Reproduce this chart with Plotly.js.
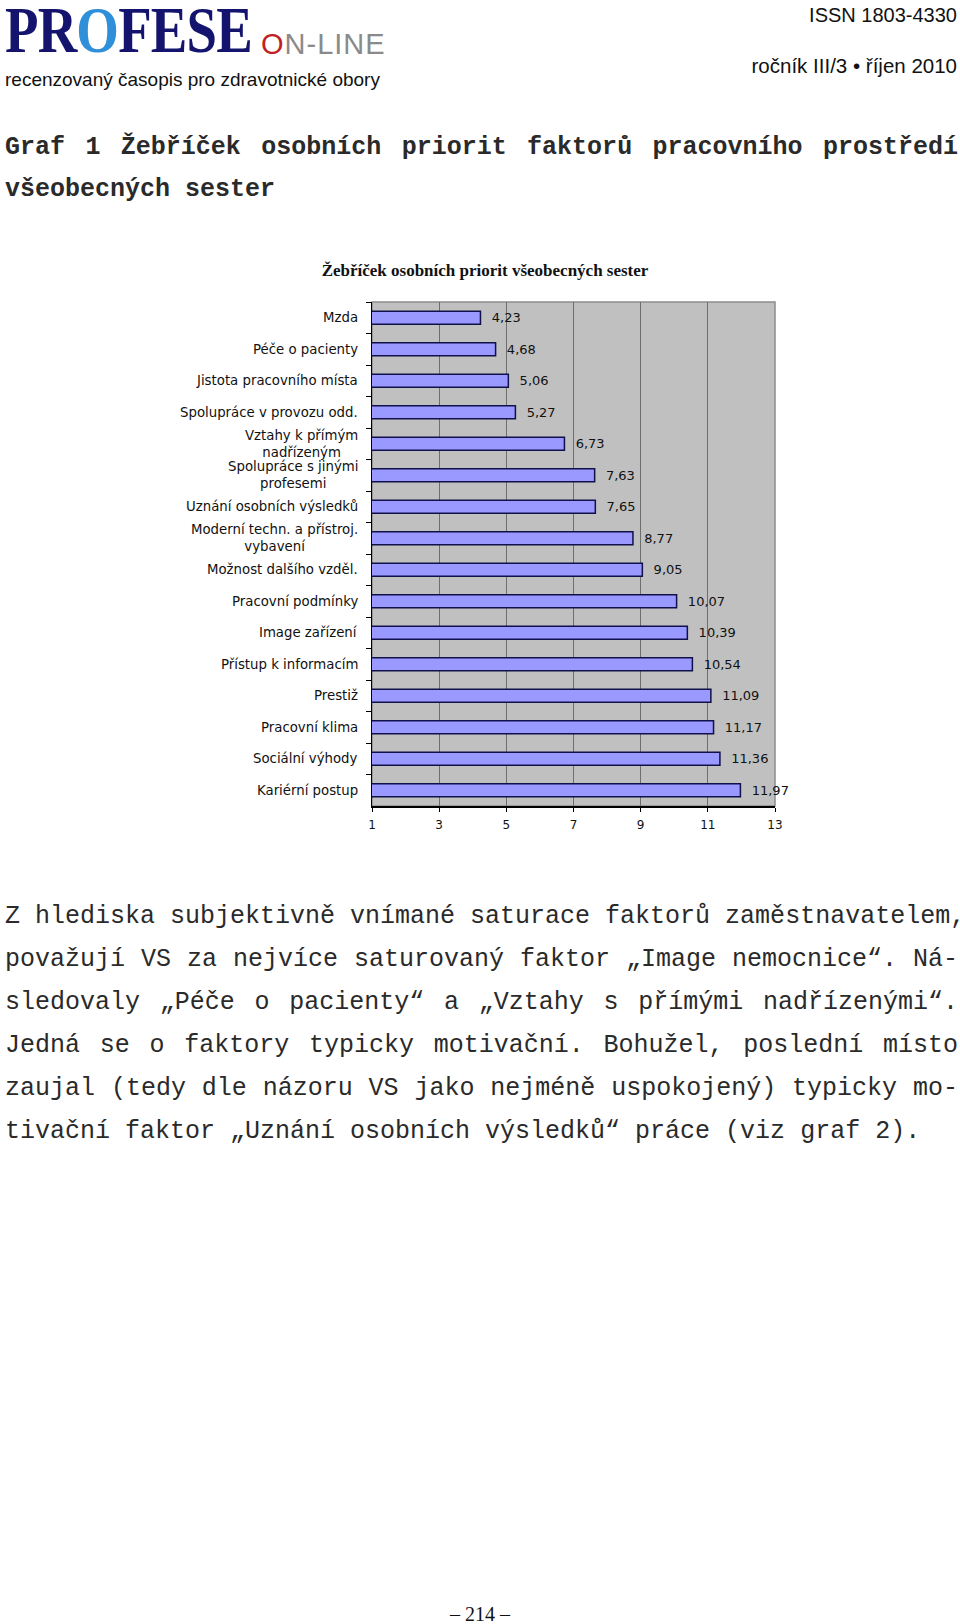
<!DOCTYPE html>
<html>
<head>
<meta charset="utf-8">
<script src="https://cdn.plot.ly/plotly-3.0.1.min.js"></script>
<style>
  html, body { margin: 0; padding: 0; background: #fff; }
  body { width: 960px; height: 1624px; position: relative; overflow: hidden; }
  #chart { position: absolute; left: 0; top: 0; width: 960px; height: 1624px; }
  .abs { position: absolute; white-space: nowrap; color: #111; line-height: 1; }
  .sans { font-family: "Liberation Sans", Arial, sans-serif; }
  .mono { font-family: "Liberation Mono", "Courier New", monospace; font-size: 25px; color: #2a2a2a; line-height: 30px; }
  .just { text-align: justify; text-align-last: justify; width: 953px; left: 5px; }
</style>
</head>
<body>
<div id="chart"></div>

<!-- header -->
<div class="abs" style="left:5px; top:2px; height:56px; overflow:visible; font-family:'Liberation Serif',serif; font-weight:bold; font-size:66px; line-height:56px; color:#14146e; transform:scaleX(0.83); transform-origin:left top; letter-spacing:-1px;">PR<span style="color:#2f8fd8;">O</span>FESE</div>
<div class="abs sans" style="left:261px; top:30px; font-size:29px; color:#8a8a8a; letter-spacing:1px;"><span style="color:#c21f24;">O</span>N-LINE</div>
<div class="abs sans" style="left:5px; top:70px; font-size:19px;">recenzovaný časopis pro zdravotnické obory</div>
<div class="abs sans" style="right:3px; top:5px; font-size:20px;">ISSN 1803-4330</div>
<div class="abs sans" style="right:3px; top:56px; font-size:20.5px;">ročník III/3 • říjen 2010</div>

<!-- caption -->
<div class="abs mono just" style="top:133px; font-weight:bold;">Graf 1 Žebříček osobních priorit faktorů pracovního prostředí</div>
<div class="abs mono" style="left:5px; top:175px; font-weight:bold;">všeobecných sester</div>

<!-- body text -->
<div class="abs mono just" style="top:902px;">Z hlediska subjektivně vnímané saturace faktorů zaměstnavatelem,</div>
<div class="abs mono just" style="top:945px;">považují VS za nejvíce saturovaný faktor „Image nemocnice“. Ná-</div>
<div class="abs mono just" style="top:988px;">sledovaly „Péče o pacienty“ a „Vztahy s přímými nadřízenými“.</div>
<div class="abs mono just" style="top:1031px;">Jedná se o faktory typicky motivační. Bohužel, poslední místo</div>
<div class="abs mono just" style="top:1074px;">zaujal (tedy dle názoru VS jako nejméně uspokojený) typicky mo-</div>
<div class="abs mono" style="left:5px; top:1117px;">tivační faktor „Uznání osobních výsledků“ práce (viz graf 2).</div>

<div class="abs" style="left:0; width:960px; text-align:center; top:1604px; font-family:'Liberation Serif',serif; font-size:20px;">– 214 –</div>

<script>
// data (top to bottom)
const categories = [
    'Mzda',
    'Péče o pacienty',
    'Jistota pracovního místa',
    'Spolupráce v provozu odd.',
    'Vztahy k přímým<br>nadřízeným',
    'Spolupráce s jinými<br>profesemi',
    'Uznání osobních výsledků',
    'Moderní techn. a přístroj.<br>vybavení',
    'Možnost dalšího vzděl.',
    'Pracovní podmínky',
    'Image zařízení',
    'Přístup k informacím',
    'Prestiž',
    'Pracovní klima',
    'Sociální výhody',
    'Kariérní postup'
];
const values = [4.23, 4.68, 5.06, 5.27, 6.73, 7.63, 7.65, 8.77, 9.05, 10.07, 10.39, 10.54, 11.09, 11.17, 11.36, 11.97];
const xTicks = [1, 3, 5, 7, 9, 11, 13];

const chartFont = 'DejaVu Sans, Verdana, sans-serif';

let data = [{
    type: 'bar',
    orientation: 'h',
    y: categories,
    x: values,
    width: 0.42,
    marker: { color: '#9999ff', line: { color: '#10104a', width: 1.5 } },
    texttemplate: '\u00a0\u00a0%{x:.2f}',
    textposition: 'outside',
    constraintext: 'none',
    cliponaxis: false,
    outsidetextfont: { family: chartFont, size: 13, color: '#111' },
    hoverinfo: 'skip'
}];

// category labels as annotations so that two-line labels are centred
let annotations = categories.map(c => ({
    xref: 'paper', yref: 'y', x: 0, y: c,
    xanchor: 'right', yanchor: 'middle', xshift: -12,
    text: c, align: 'center', showarrow: false,
    font: { family: chartFont, size: 13.3, color: '#111' }
}));

let layout = {
    width: 960,
    height: 1624,
    margin: { l: 372, r: 185, t: 302, b: 818, pad: 0 },
    paper_bgcolor: 'rgba(0,0,0,0)',
    plot_bgcolor: '#c0c0c0',
    separators: ', ',
    showlegend: false,
    title: {
        text: '<b>Žebříček osobních priorit všeobecných sester</b>',
        font: { family: 'Liberation Serif, serif', size: 17, color: '#111' },
        xref: 'container', yref: 'container',
        x: 485 / 960, y: 1 - 270 / 1624,
        xanchor: 'center', yanchor: 'middle'
    },
    xaxis: {
        range: [1, 13],
        tickvals: xTicks,
        ticks: 'outside', ticklen: 4, tickcolor: '#000', tickwidth: 1,
        ticklabelstandoff: 3,
        showgrid: true, gridcolor: '#6e6e6e', gridwidth: 1,
        zeroline: false,
        showline: true, linecolor: '#000', linewidth: 1.5,
        tickfont: { family: chartFont, size: 12, color: '#111' },
        fixedrange: true
    },
    yaxis: {
        autorange: 'reversed',
        type: 'category',
        showticklabels: false,
        ticks: 'outside', ticklen: 5, tickcolor: '#000', tickwidth: 1,
        tickson: 'boundaries',
        showgrid: false,
        zeroline: false,
        showline: true, linecolor: '#000', linewidth: 1.5,
        fixedrange: true
    },
    shapes: [{
        type: 'rect', xref: 'paper', yref: 'paper', x0: 0, x1: 1, y0: 0, y1: 1,
        line: { color: '#8c8c8c', width: 1.5 }, layer: 'below'
    }],
    annotations: annotations
};

Plotly.newPlot('chart', data, layout, { staticPlot: true });
</script>
</body>
</html>
